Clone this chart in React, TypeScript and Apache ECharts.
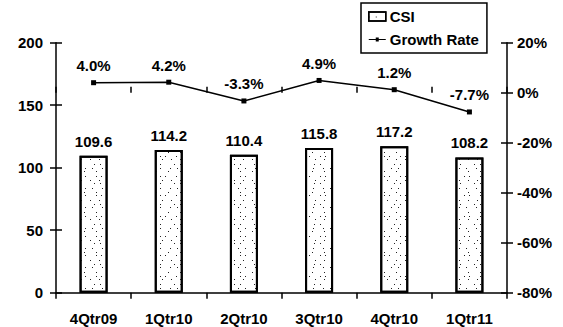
import React, { useEffect, useRef } from "react";
import * as echarts from "echarts";

const categories = ["4Qtr09", "1Qtr10", "2Qtr10", "3Qtr10", "4Qtr10", "1Qtr11"];
const csiValues = [109.6, 114.2, 110.4, 115.8, 117.2, 108.2];
const growthRate = [4.0, 4.2, -3.3, 4.9, 1.2, -7.7];
const csiTicks = { min: 0, max: 200, interval: 50 };
const rateTicks = { min: -80, max: 20, interval: 20 };

const FONT = "'Liberation Sans', Arial, sans-serif";

export default function App() {
  const ref = useRef<HTMLDivElement>(null);
  useEffect(() => {
    if (!ref.current) return;
    const chart = echarts.init(ref.current, null, { renderer: "svg" });
    const textStyle = { fontFamily: FONT, fontSize: 15, fontWeight: "bold" as const, color: "#000" };
    const axisLine = { show: true, lineStyle: { color: "#000", width: 1.5 } };
    const tick = (inside: boolean) => ({
      show: true,
      inside,
      length: 6,
      lineStyle: { color: "#000", width: 1.5 },
    });
    chart.setOption({
      animation: false,
      backgroundColor: "#fff",
      textStyle: { fontFamily: FONT },
      grid: { left: 56, right: 56, top: 42.7, bottom: 34.3 },
      legend: {
        orient: "vertical",
        left: 361,
        top: 3,
        padding: [6, 8, 6, 7],
        itemGap: 8,
        itemWidth: 17,
        itemHeight: 16,
        borderColor: "#000",
        borderWidth: 1.5,
        textStyle: { ...textStyle, padding: [0, 0, 0, -1] },
        data: [
          {
            name: "CSI",
            icon: "path://M0,0 L17,0 L17,9 L0,9 Z",
            itemStyle: { color: "#fff", borderColor: "#000", borderWidth: 1.5 },
          },
          {
            name: "Growth Rate",
            icon: "path://M0,4 L7,4 L7,2.5 L10,2.5 L10,4 L17,4 L17,5 L10,5 L10,6.5 L7,6.5 L7,5 L0,5 Z",
            itemStyle: { color: "#000", borderWidth: 0 },
          },
        ],
      },
      xAxis: [
        {
          type: "category",
          data: categories,
          axisLine,
          axisTick: tick(false),
          axisLabel: { ...textStyle, margin: 18 },
        },
        {
          type: "category",
          data: categories,
          position: "bottom",
          axisLine: { show: false },
          axisTick: tick(true),
          axisLabel: { show: false },
        },
      ],
      yAxis: [
        {
          type: "value",
          ...csiTicks,
          position: "left",
          splitLine: { show: false },
          axisLine,
          axisTick: tick(false),
          axisLabel: { ...textStyle, margin: 13 },
        },
        {
          type: "value",
          ...rateTicks,
          position: "right",
          splitLine: { show: false },
          axisLine,
          axisTick: tick(false),
          axisLabel: { ...textStyle, margin: 10, formatter: "{value}%" },
        },
        {
          type: "value",
          ...csiTicks,
          position: "left",
          splitLine: { show: false },
          axisLine: { show: false },
          axisTick: tick(true),
          axisLabel: { show: false },
        },
        {
          type: "value",
          ...rateTicks,
          position: "right",
          splitLine: { show: false },
          axisLine: { show: false },
          axisTick: tick(true),
          axisLabel: { show: false },
        },
      ],
      series: [
        {
          name: "CSI",
          type: "bar",
          data: csiValues,
          barWidth: 28,
          itemStyle: {
            color: "#fff",
            borderColor: "#000",
            borderWidth: 2,
            decal: {
              symbol: "rect",
              symbolSize: 1,
              color: "#222",
              backgroundColor: "#fff",
              dashArrayX: [[1, 6, 1, 9], [1, 11], [1, 4, 1, 10], [1, 8], [1, 13, 1, 5]],
              dashArrayY: [1, 2, 1, 4, 1, 3],
              rotation: 0,
            },
          },
          label: {
            show: true,
            position: "top",
            distance: 7,
            ...textStyle,
            formatter: (p: any) => p.value.toFixed(1),
          },
        },
        {
          name: "Growth Rate",
          type: "line",
          yAxisIndex: 1,
          data: growthRate,
          symbol: "rect",
          symbolSize: 5,
          color: "#000",
          lineStyle: { color: "#000", width: 1.5 },
          itemStyle: { color: "#000" },
          label: {
            show: true,
            position: "top",
            distance: 7,
            ...textStyle,
            formatter: (p: any) => p.value.toFixed(1) + "%",
          },
        },
      ],
    });
    return () => chart.dispose();
  }, []);
  return <div ref={ref} style={{ width: 563, height: 327, position: "absolute", left: 0, top: 0 }} />;
}
